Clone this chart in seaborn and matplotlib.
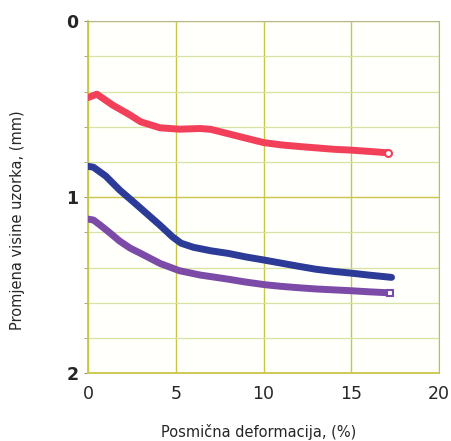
import numpy as np
import pandas as pd
import matplotlib
matplotlib.use("Agg")
import matplotlib.pyplot as plt
import seaborn as sns

# ---- data ----
red_x = [0.0, 0.5, 1.4, 2.4, 3.0, 4.1, 5.2, 6.4, 7.0, 8.0, 9.0, 10.0, 11.0, 12.0, 13.0, 14.0, 15.0, 16.0, 17.1]
red_y = [0.434, 0.415, 0.477, 0.534, 0.572, 0.606, 0.614, 0.610, 0.615, 0.640, 0.665, 0.690, 0.703, 0.712, 0.720, 0.728, 0.733, 0.740, 0.748]

blue_x = [0.0, 0.3, 1.0, 1.8, 2.5, 3.3, 4.1, 4.8, 5.3, 6.0, 7.0, 8.0, 9.0, 10.0, 11.0, 12.0, 13.0, 14.0, 15.0, 16.0, 17.3]
blue_y = [0.825, 0.830, 0.880, 0.960, 1.020, 1.090, 1.160, 1.225, 1.262, 1.285, 1.305, 1.320, 1.340, 1.357, 1.375, 1.393, 1.410, 1.422, 1.432, 1.443, 1.456]

purple_x = [0.0, 0.3, 0.7, 1.2, 1.8, 2.4, 3.0, 4.1, 5.2, 6.4, 7.9, 9.0, 10.1, 11.0, 12.0, 13.0, 14.0, 15.0, 16.0, 17.2]
purple_y = [1.125, 1.130, 1.160, 1.200, 1.250, 1.290, 1.320, 1.377, 1.418, 1.443, 1.465, 1.483, 1.498, 1.507, 1.515, 1.522, 1.527, 1.532, 1.538, 1.544]

x_ticks = [0, 5, 10, 15, 20]
y_ticks = [0, 1, 2]
x_label = "Posmična deformacija, (%)"
y_label = "Promjena visine uzorka, (mm)"

df = pd.concat([
    pd.DataFrame({"x": red_x, "y": red_y, "s": "red"}),
    pd.DataFrame({"x": blue_x, "y": blue_y, "s": "blue"}),
    pd.DataFrame({"x": purple_x, "y": purple_y, "s": "purple"}),
], ignore_index=True)

sns.set_style("white")
plt.rcParams['font.family'] = ['DejaVu Sans']

fig = plt.figure(figsize=(4.52, 4.41), dpi=100)
ax = fig.add_axes([0.195, 0.154, 0.776, 0.798])
ax.set_facecolor("#fffffb")

palette = {"red": "#f2405a", "blue": "#2c3b98", "purple": "#7c4ba8"}
sns.lineplot(data=df, x="x", y="y", hue="s", palette=palette, linewidth=5,
             legend=False, ax=ax, sort=False, solid_capstyle="round", zorder=3)

# hollow-looking end markers
ax.plot(red_x[-1:], red_y[-1:], marker="o", ms=5, mfc="white", mec="#f2405a", mew=1.5, zorder=4)
ax.plot(purple_x[-1:], purple_y[-1:], marker="s", ms=5, mfc="white", mec="#7c4ba8", mew=1.5, zorder=4)

ax.set_xlim(0, 20)
ax.set_ylim(2, 0)
ax.set_xticks(x_ticks)
ax.set_yticks(y_ticks)
ax.set_yticks(np.arange(0, 2.01, 0.2), minor=True)

ax.grid(True, which="major", axis="x", color="#c9c64a", linewidth=1.0)
ax.grid(True, which="major", axis="y", color="#c9c64a", linewidth=1.0)
ax.grid(True, which="minor", axis="y", color="#d6e3a2", linewidth=0.9)
ax.set_axisbelow(True)

for side in ["left", "bottom"]:
    ax.spines[side].set_color("#c9c64a")
    ax.spines[side].set_linewidth(1.3)
for side in ["top", "right"]:
    ax.spines[side].set_color("#b8b890")
    ax.spines[side].set_linewidth(0.8)

ax.tick_params(axis="y", which="both", left=True, length=3, color="#999966", labelsize=12.5, pad=4)
ax.tick_params(axis="x", which="major", bottom=False, labelsize=12.5, pad=5)
for lab in ax.get_yticklabels():
    lab.set_fontweight("bold")

ax.set_xlabel(x_label, fontsize=10.5)
ax.set_ylabel(y_label, fontsize=10.5)
ax.xaxis.set_label_coords(0.485, -0.145)
ax.yaxis.set_label_coords(-0.18, 0.435)

fig.savefig("out.png", dpi=100, facecolor="white")
